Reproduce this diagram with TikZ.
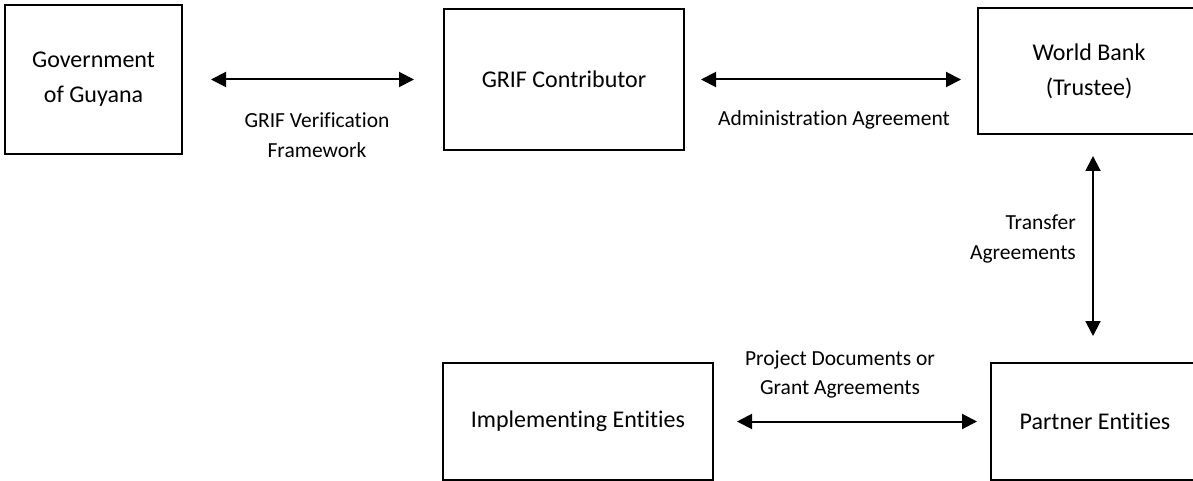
\documentclass[tikz,border=0pt]{standalone}
\usepackage{fontspec}
\setmainfont{Carlito}[Ligatures=NoCommon]
\usetikzlibrary{arrows.meta}

\begin{document}
\begin{tikzpicture}[x=1pt, y=-1pt,
				   every node/.style={align=center},
				   entity/.style={draw=black, line width=2pt, inner sep=0pt, font=\fontsize{24}{35}\selectfont},
				   link/.style={{Triangle[length=15pt,width=15pt]}-{Triangle[length=15pt,width=15pt]}, line width=2pt},
				   note/.style={inner sep=0pt, font=\fontsize{21.5}{29.5}\selectfont}]
\useasboundingbox (0,0) rectangle (1193,481);
\clip (0,0) rectangle (1193,481);
\node[entity, minimum width=177pt, minimum height=149pt] (gov) at (93.5,79.5) {Government\\of Guyana};
\node[entity, minimum width=240pt, minimum height=141pt] (grif) at (564,79.5) {GRIF Contributor};
\node[entity, minimum width=222pt, minimum height=126pt] (wb) at (1089,71) {World Bank\\(Trustee)};
\node[entity, minimum width=270pt, minimum height=117pt] (ie) at (578,421.5) {Implementing Entities};
\node[entity, minimum width=208pt, minimum height=117pt] (pe) at (1095,421.5) {Partner Entities};

\draw[link] ([xshift=28pt]gov.east) -- ([xshift=-29pt]gov.east -| grif.west);
\draw[link] ([xshift=16pt]grif.east) -- ([xshift=-16pt]grif.east -| wb.west);
\draw[link] ([xshift=4pt, yshift=-21pt]wb.south) -- ([xshift=-2pt, yshift=26pt]pe.north);
\draw[link] ([xshift=23pt]ie.east) -- ([xshift=-13pt]pe.west);

\node[note] (verif) at (317,135) {GRIF Verification\\Framework};
\node[note] (admin) at (834,120) {Administration Agreement};
\node[note, anchor=east, align=right] (transfer) at (1076,239) {Transfer\\Agreements};
\node[note] (project) at (840,374.5) {Project Documents or\\Grant Agreements};
\end{tikzpicture}
\end{document}
